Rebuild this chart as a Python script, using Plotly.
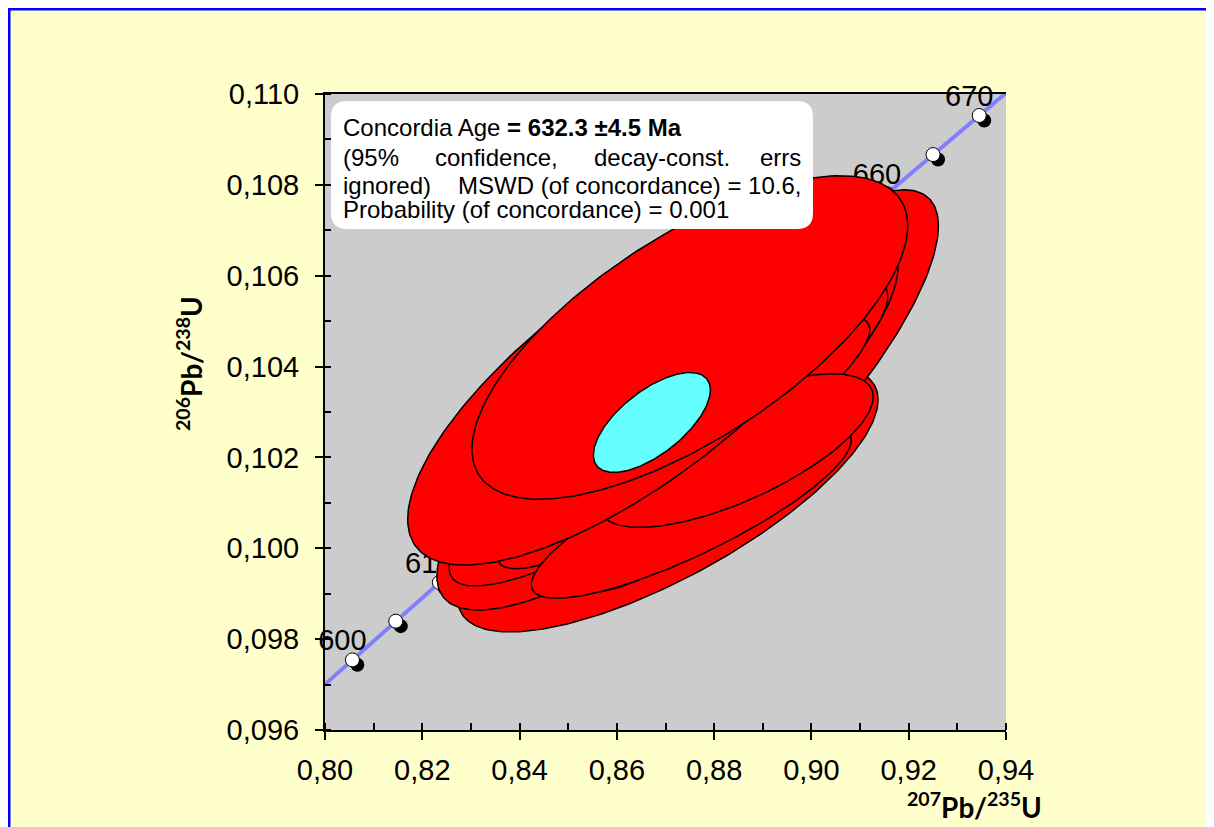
import numpy as np
import plotly.graph_objects as go

# ---------------- data ----------------
# concordia tick ages (Ma) and labelled ages
tick_ages = [600, 605, 610, 615, 620, 625, 630, 635, 640, 645, 650, 655, 660, 665, 670]
label_ages = [600, 610, 620, 630, 640, 650, 660, 670]
LAMBDA_238 = 1.55125e-10
LAMBDA_235 = 9.8485e-10

# analysis error ellipses (centre, 2-sigma half extents, error correlation), in drawing order
ell_x = [0.8705, 0.8869, 0.8704, 0.8706, 0.8737, 0.8753, 0.8845, 0.8639, 0.8750]
ell_y = [0.10108, 0.10346, 0.10279, 0.10256, 0.10232, 0.10079, 0.10215, 0.10367, 0.10464]
ell_sx = [0.0432, 0.0392, 0.0474, 0.0451, 0.0383, 0.0329, 0.0282, 0.0469, 0.0448]
ell_sy = [0.00292, 0.00443, 0.00415, 0.00339, 0.00277, 0.00189, 0.00169, 0.00404, 0.00356]
ell_rho = [0.75, 0.82, 0.82, 0.88, 0.90, 0.84, 0.70, 0.75, 0.69]

# concordia age ellipse
mean_x, mean_y = 0.8672, 0.10277
mean_sx, mean_sy, mean_rho = 0.01203, 0.00110, 0.65

x_ticks = [0.80, 0.82, 0.84, 0.86, 0.88, 0.90, 0.92, 0.94]
y_ticks = [0.096, 0.098, 0.100, 0.102, 0.104, 0.106, 0.108, 0.110]
x_range = [0.80, 0.94]
y_range = [0.096, 0.110]

box_lines = [
    "Concordia Age <b>= 632.3 ±4.5 Ma</b>",
    "(95%", "confidence,", "decay-const.", "errs",
    "ignored)", "MSWD (of concordance) = 10.6,",
    "Probability (of concordance) = 0.001",
]

# ---------------- layout geometry ----------------
OFF = 8  # page body margin: figure origin sits at (8, 8) on screen
W, H = 1214, 827
L, T = 317, 86
PW, PH = 681, 636
R, B = W - L - PW, H - T - PH
kx = PW / (x_range[1] - x_range[0])
ky = PH / (y_range[1] - y_range[0])


def px(xs):
    """screen x pixel -> paper x"""
    return (xs - OFF - L) / PW


def py(ys):
    """screen y pixel -> paper y"""
    return (T + PH - (ys - OFF)) / PH


def ellipse(cx, cy, sx, sy, rho, n=240):
    t = np.linspace(0, 2 * np.pi, n)
    x = cx + sx * np.cos(t)
    y = cy + sy * (rho * np.cos(t) + np.sqrt(1 - rho ** 2) * np.sin(t))
    return x, y


def conc(t_ma):
    t = np.asarray(t_ma, dtype=float) * 1e6
    return np.exp(LAMBDA_235 * t) - 1, np.exp(LAMBDA_238 * t) - 1


fig = go.Figure()

# concordia curve
t_lo = np.log(1 + x_range[0]) / LAMBDA_235 / 1e6
t_hi = np.log(1 + x_range[1]) / LAMBDA_235 / 1e6
cx_, cy_ = conc(np.linspace(t_lo, t_hi, 200))
fig.add_trace(go.Scatter(x=cx_, y=cy_, mode="lines",
                         line=dict(color="#8080FF", width=4), hoverinfo="skip"))

# tick markers with shadow
mx, my = conc(tick_ages)
sh = 5
fig.add_trace(go.Scatter(x=mx + sh / kx, y=my - sh / ky, mode="markers",
                         marker=dict(size=14, color="black"), hoverinfo="skip"))
fig.add_trace(go.Scatter(x=mx, y=my, mode="markers",
                         marker=dict(size=14, color="white", line=dict(color="black", width=1)),
                         hoverinfo="skip"))
lx, ly = conc(label_ages)
fig.add_trace(go.Scatter(x=lx - 10 / kx, y=ly + 17 / ky, mode="text",
                         text=[str(a) for a in label_ages], textposition="middle center",
                         textfont=dict(family="Liberation Sans", size=29, color="black"),
                         cliponaxis=False, hoverinfo="skip"))

# data ellipses
for cx, cy, sx, sy, r in zip(ell_x, ell_y, ell_sx, ell_sy, ell_rho):
    ex, ey = ellipse(cx, cy, sx, sy, r)
    fig.add_trace(go.Scatter(x=ex, y=ey, mode="lines", fill="toself",
                             fillcolor="#FF0000", line=dict(color="black", width=1.5),
                             hoverinfo="skip"))

# concordia age ellipse
ex, ey = ellipse(mean_x, mean_y, mean_sx, mean_sy, mean_rho)
fig.add_trace(go.Scatter(x=ex, y=ey, mode="lines", fill="toself",
                         fillcolor="#66FFFF", line=dict(color="black", width=1.5),
                         hoverinfo="skip"))

# dummy trace for overlay axes (inner half of major ticks)
fig.add_trace(go.Scatter(x=[None], y=[None], xaxis="x2", yaxis="y2", hoverinfo="skip"))

tickfont = dict(family="Liberation Sans", size=29, color="black")

fig.update_layout(
    width=W, height=H,
    margin=dict(l=L, r=R, t=T, b=B),
    paper_bgcolor="#FFFFCC", plot_bgcolor="#CCCCCC",
    showlegend=False,
    separators=",.",
    xaxis=dict(range=x_range, tickvals=x_ticks, tickformat=".2f",
               ticks="outside", ticklen=8, tickwidth=2, tickcolor="black",
               showline=True, linewidth=2, linecolor="black", mirror=True,
               showgrid=False, zeroline=False, tickfont=tickfont,
               ticklabelstandoff=5,
               minor=dict(ticks="inside", ticklen=7, tickwidth=2, tickcolor="black",
                          dtick=0.01, tick0=0.80, showgrid=False)),
    yaxis=dict(range=y_range, tickvals=y_ticks, tickformat=".3f",
               ticks="outside", ticklen=8, tickwidth=2, tickcolor="black",
               showline=True, linewidth=2, linecolor="black", mirror=False,
               showgrid=False, zeroline=False, tickfont=tickfont,
               ticklabelstandoff=10,
               minor=dict(ticks="inside", ticklen=6, tickwidth=2, tickcolor="black",
                          dtick=0.001, tick0=0.096, showgrid=False)),
    xaxis2=dict(range=x_range, overlaying="x", anchor="y", side="bottom",
                tickvals=x_ticks, ticks="inside", ticklen=7, tickwidth=2, tickcolor="black",
                showticklabels=False, showgrid=False, zeroline=False, showline=False),
    yaxis2=dict(range=y_range, overlaying="y", anchor="x", side="left",
                tickvals=y_ticks, ticks="inside", ticklen=6, tickwidth=2, tickcolor="black",
                showticklabels=False, showgrid=False, zeroline=False, showline=False),
)

# outer blue frame
fig.add_shape(type="rect", xref="paper", yref="paper",
              x0=px(9), x1=px(1260), y0=py(880), y1=py(9),
              line=dict(color="#0000FF", width=3), fillcolor="rgba(0,0,0,0)", layer="above")

# rounded white text box
bx0, bx1, by0, by1, rr = 331, 813, 101, 229, 16
pts = (f"M {px(bx0 + rr)},{py(by0)} L {px(bx1 - rr)},{py(by0)} "
       f"Q {px(bx1)},{py(by0)} {px(bx1)},{py(by0 + rr)} "
       f"L {px(bx1)},{py(by1 - rr)} Q {px(bx1)},{py(by1)} {px(bx1 - rr)},{py(by1)} "
       f"L {px(bx0 + rr)},{py(by1)} Q {px(bx0)},{py(by1)} {px(bx0)},{py(by1 - rr)} "
       f"L {px(bx0)},{py(by0 + rr)} Q {px(bx0)},{py(by0)} {px(bx0 + rr)},{py(by0)} Z")
fig.add_shape(type="path", xref="paper", yref="paper", path=pts,
              fillcolor="white", line=dict(color="white", width=0), layer="above")

boxfont = dict(family="Liberation Sans", size=24, color="black")
placements = [
    (341, 127, "left"),
    (341, 157, "left"), (433, 157, "left"), (592, 157, "left"), (803, 157, "right"),
    (341, 185, "left"), (803, 185, "right"),
    (341, 210, "left"),
]
for txt, (xp, yp, anc) in zip(box_lines, placements):
    fig.add_annotation(x=px(xp), y=py(yp), xref="paper", yref="paper", text=txt,
                       showarrow=False, xanchor=anc, yanchor="middle", font=boxfont)

# axis titles
titlefont = dict(family="Lato", size=28, color="black")
fig.add_annotation(x=px(974), y=py(805), xref="paper", yref="paper",
                   text="<b><sup>207</sup>Pb/<sup>235</sup>U</b>", showarrow=False,
                   xanchor="center", yanchor="middle", font=titlefont)
fig.add_annotation(x=px(189), y=py(364), xref="paper", yref="paper",
                   text="<b><sup>206</sup>Pb/<sup>238</sup>U</b>", showarrow=False,
                   textangle=-90, xanchor="center", yanchor="middle", font=titlefont)

fig.write_html("out.html")
